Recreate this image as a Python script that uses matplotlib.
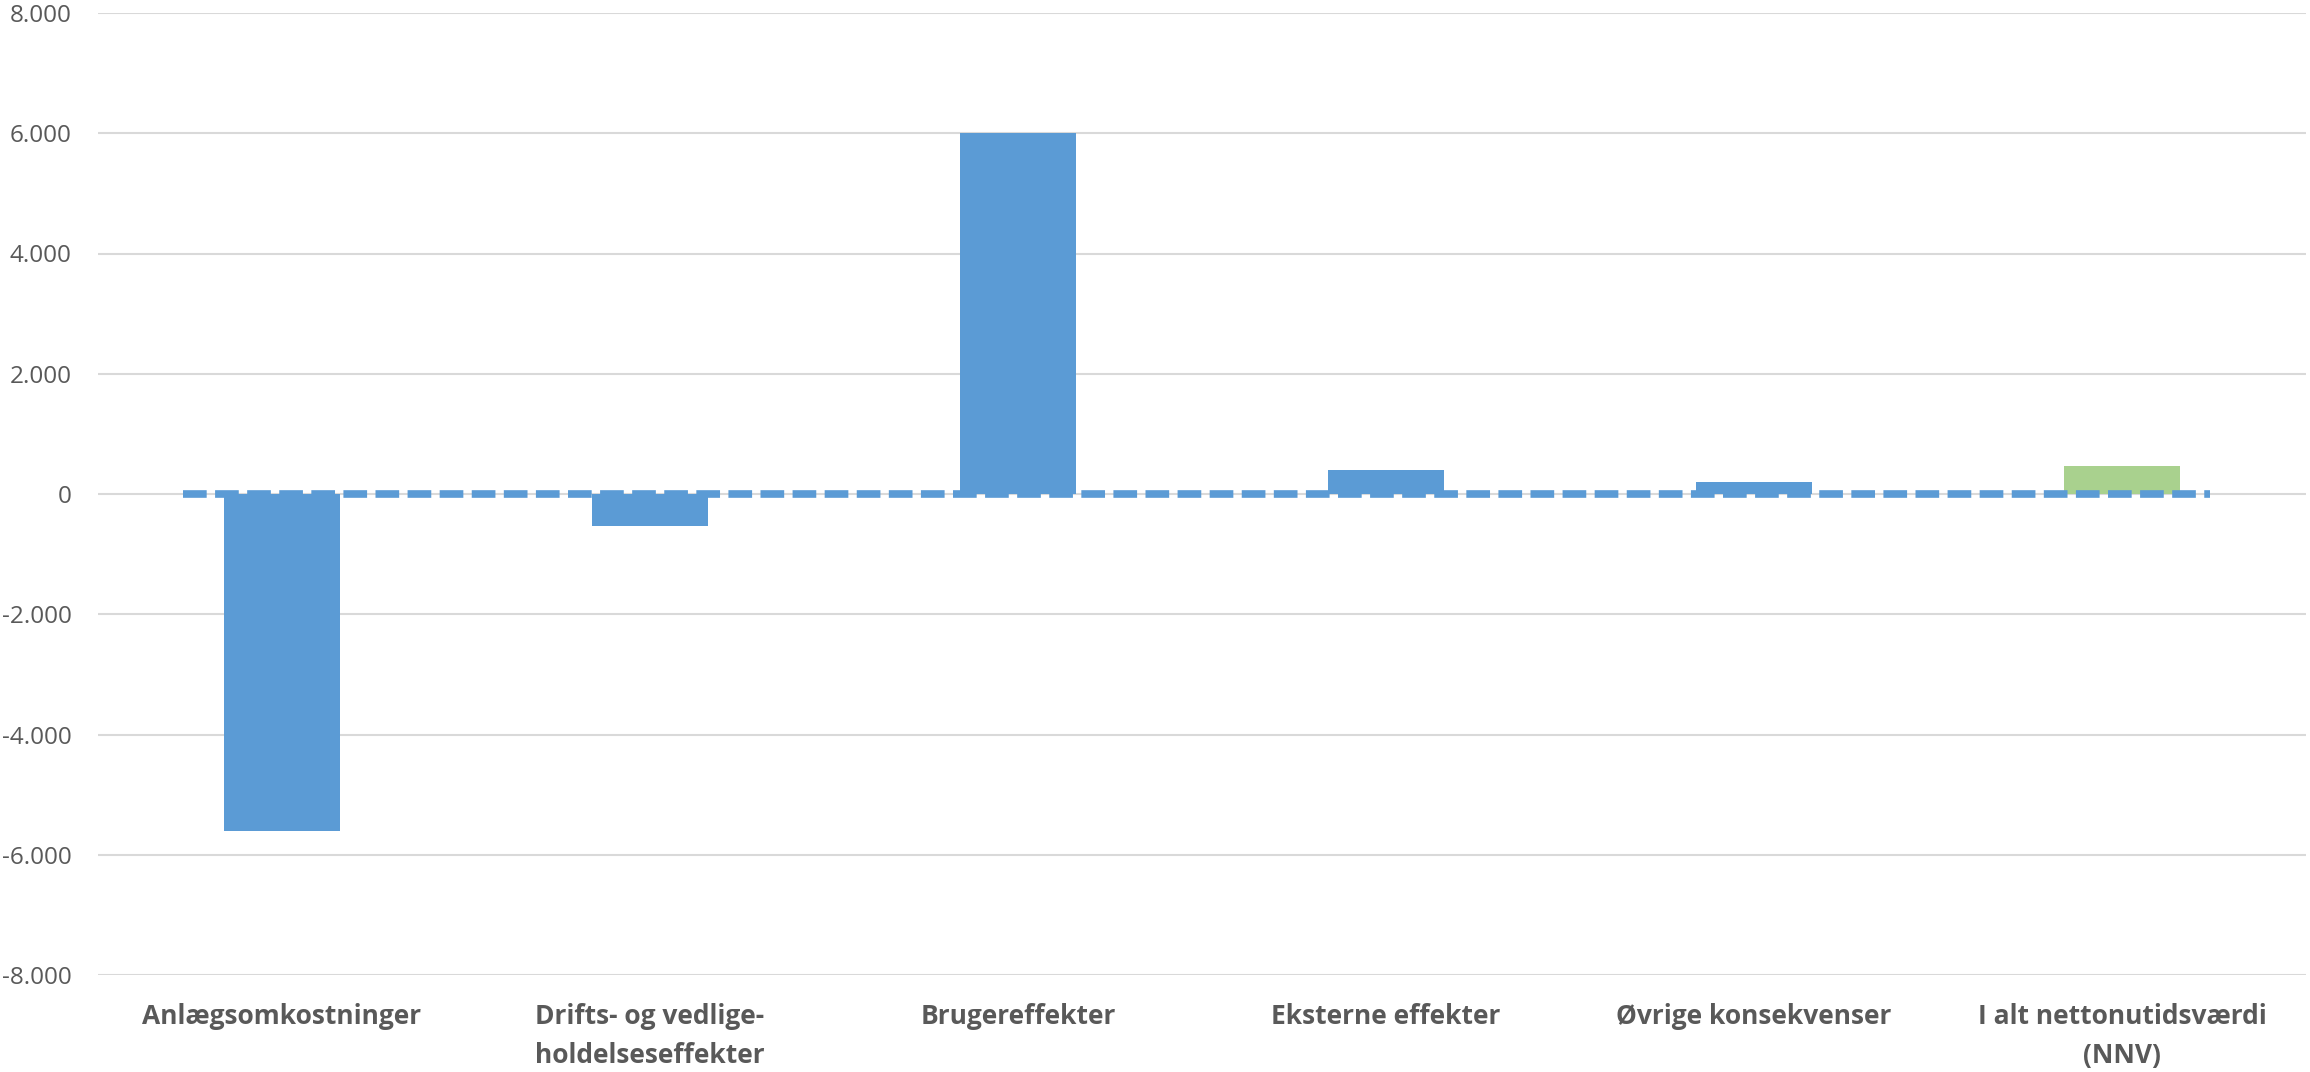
import matplotlib.pyplot as plt
from matplotlib.ticker import FuncFormatter

# Samfundsøkonomiske effekter (mio. kr.)
categories = ['Anlægsomkostninger', 'Drifts- og vedlige-\nholdelseseffekter', 'Brugereffekter',
              'Eksterne effekter', 'Øvrige konsekvenser', 'I alt nettonutidsværdi\n(NNV)']
values = [-5600, -540, 6000, 400, 200, 460]
bar_colors = ['#5B9BD5'] * 5 + ['#A9D18E']

# reference line at zero
ref_x = [-0.27, 5.24]
ref_y = [0, 0]

yticks = list(range(-8000, 8001, 2000))

plt.rcParams['font.family'] = ['Open Sans', 'DejaVu Sans']
fig = plt.figure(figsize=(23.1, 10.72), dpi=100)
ax = fig.add_axes([98 / 2310, 1 - 975 / 1072, (2306 - 98) / 2310, (975 - 13) / 1072])

x = list(range(len(categories)))
ax.bar(x, values, width=0.315, color=bar_colors, zorder=2)
ax.plot(ref_x, ref_y, color='#5B9BD5', linewidth=5.5, linestyle=(0, (3.1, 1.1)),
        solid_capstyle='butt', dash_capstyle='butt', zorder=3)

ax.set_xlim(-0.5, 5.5)
ax.set_ylim(-8000, 8000)
ax.set_yticks(yticks)
ax.yaxis.set_major_formatter(FuncFormatter(lambda v, p: f'{int(v):,}'.replace(',', '.')))
ax.set_xticks(x)
ax.set_xticklabels(categories, fontsize=19, fontweight='bold', color='#595959', linespacing=1.6)
ax.tick_params(axis='y', length=0, pad=19, labelsize=17.5, labelcolor='#595959')
ax.tick_params(axis='x', length=0, pad=20)
ax.grid(axis='y', color='#D9D9D9', linewidth=1.5, zorder=0)
ax.set_axisbelow(True)
for s in ax.spines.values():
    s.set_visible(False)

fig.savefig('out.png', dpi=100)
